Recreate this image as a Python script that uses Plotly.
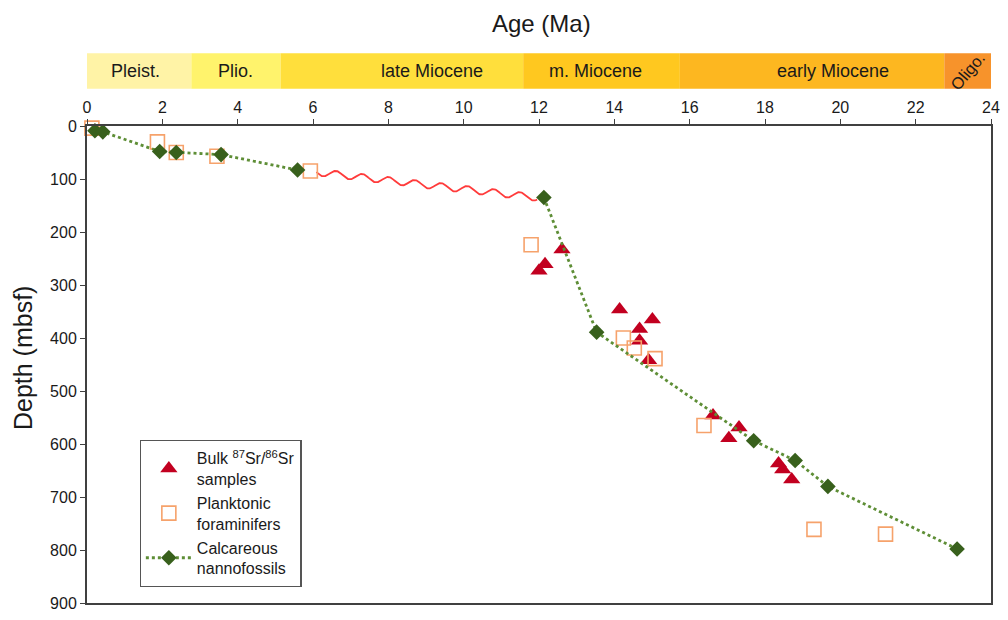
import numpy as np
import plotly.graph_objects as go

# ---------------- data ----------------
sr_age = [12.61, 12.16, 12.0, 14.14, 15.01, 14.67, 14.67, 14.91, 16.62, 17.31, 17.04, 18.36, 18.47, 18.71]
sr_depth = [233, 261, 273, 346, 365, 383, 405, 442, 546, 569, 589, 637, 648, 667]

foram_age = [0.13, 1.87, 2.37, 3.45, 5.93, 11.79, 14.24, 14.53, 15.08, 16.38, 19.30, 21.20]
foram_depth = [4, 30, 50, 57, 85, 224, 400, 419, 439, 565, 761, 770]

nanno_age = [0.21, 0.42, 1.93, 2.37, 3.56, 5.59, 12.13, 13.53, 17.70, 18.80, 19.67, 23.10]
nanno_depth = [9, 11, 48, 50, 54, 83, 135, 389, 594, 631, 680, 798]
hiatus_after_index = 5          # line is broken between these nanno points (unconformity)
hiatus_start = (6.09, 87)       # age, depth where wavy line starts
hiatus_end = (11.95, 135)       # age, depth where wavy line ends

epoch_names = ["Pleist.", "Plio.", "late Miocene", "m. Miocene", "early Miocene", "Oligo."]
epoch_start = [0, 2.77, 5.14, 11.58, 15.74, 22.76]
epoch_end = [2.77, 5.14, 11.58, 15.74, 22.76, 24]
epoch_label_age = [1.3, 3.93, 9.15, 13.5, 19.8, 23.38]
epoch_colors = ["#FFF3A6", "#FFF36C", "#FFDF3C", "#FFC81F", "#FDB720", "#F7932B"]

x_ticks = list(range(0, 25, 2))
y_ticks = list(range(0, 901, 100))

FONT = "Liberation Sans, Arial, sans-serif"
TXT = "#1a1a1a"
AX = "#404040"

fig = go.Figure()

# nannofossil line with gap at the hiatus
line_x = nanno_age[:hiatus_after_index + 1] + [None] + nanno_age[hiatus_after_index + 1:]
line_y = nanno_depth[:hiatus_after_index + 1] + [None] + nanno_depth[hiatus_after_index + 1:]

# wavy unconformity symbol (decoration)
t = np.linspace(0, 1, 600)
n_waves = 8.4
wave_amp = 6.5
wave_x = hiatus_start[0] + (hiatus_end[0] - hiatus_start[0]) * t
wave_y = hiatus_start[1] + (hiatus_end[1] - hiatus_start[1]) * t + wave_amp * np.sin(2 * np.pi * n_waves * t)

fig.add_trace(go.Scatter(
    x=wave_x, y=wave_y, mode="lines", showlegend=False, hoverinfo="skip",
    line=dict(color="#FF3B3B", width=1.8)))

fig.add_trace(go.Scatter(
    x=sr_age, y=sr_depth, mode="markers",
    name="Bulk <sup>87</sup>Sr/<sup>86</sup>Sr<br>samples",
    marker=dict(symbol="triangle-up", size=15, color="#C20020"),
    cliponaxis=False))

fig.add_trace(go.Scatter(
    x=foram_age, y=foram_depth, mode="markers",
    name="Planktonic<br>foraminifers",
    marker=dict(symbol="square-open", size=14, color="#F6A26B", line=dict(width=1.6)),
    cliponaxis=False))

fig.add_trace(go.Scatter(
    x=line_x, y=line_y, mode="lines+markers",
    name="Calcareous<br>nannofossils",
    line=dict(color="#5E8E36", width=2.8, dash="dot"), connectgaps=False,
    marker=dict(symbol="diamond", size=12, color="#38601C"),
    cliponaxis=False))

shapes = []
annotations = []
bar_y0 = (612 - 88) / 486
bar_y1 = (612 - 52) / 486
for name, s, e, la, c in zip(epoch_names, epoch_start, epoch_end, epoch_label_age, epoch_colors):
    shapes.append(dict(type="rect", xref="x", yref="paper", x0=s, x1=e, y0=bar_y0, y1=bar_y1,
                       fillcolor=c, line=dict(width=0), layer="below"))
    if name == "Oligo.":
        annotations.append(dict(x=la, y=(bar_y0 + bar_y1) / 2, xref="x", yref="paper", text=name,
                                xanchor="center", yanchor="middle",
                                showarrow=False, textangle=-50,
                                font=dict(family=FONT, size=16.5, color=TXT)))
    else:
        annotations.append(dict(x=la, y=(bar_y0 + bar_y1) / 2, xref="x", yref="paper", text=name,
                                xanchor="center", yanchor="middle",
                                showarrow=False, font=dict(family=FONT, size=18, color=TXT)))

annotations.append(dict(x=0.503, y=(612 - 22) / 486, xref="paper", yref="paper", text="Age (Ma)",
                        xanchor="center", yanchor="middle",
                        showarrow=False, font=dict(family=FONT, size=24, color=TXT)))
annotations.append(dict(x=(22 - 87) / 910, y=(612 - 362) / 486, xref="paper", yref="paper",
                        text="Depth (mbsf)", xanchor="center", yanchor="middle",
                        showarrow=False, textangle=-90, font=dict(family=FONT, size=25, color=TXT)))

fig.update_layout(
    width=1008, height=620,
    margin=dict(l=87, r=11, t=126, b=8, pad=0),
    paper_bgcolor="white", plot_bgcolor="white",
    font=dict(family=FONT, color=TXT),
    shapes=shapes, annotations=annotations,
    legend=dict(x=(140 - 87) / 910, y=(612 - 446) / 486, xanchor="left", yanchor="top",
                bordercolor="#555555", borderwidth=1.2, bgcolor="white",
                itemwidth=46,
                font=dict(family=FONT, size=16, color=TXT)),
    xaxis=dict(range=[0, 24], side="top", tickmode="array", tickvals=x_ticks,
               ticks="outside", ticklen=5, tickwidth=1, tickcolor=AX,
               showline=True, linecolor=AX, linewidth=2, mirror=True,
               showgrid=False, zeroline=False,
               tickfont=dict(family=FONT, size=16, color=TXT)),
    yaxis=dict(range=[900, 0], tickmode="array", tickvals=y_ticks,
               ticks="outside", ticklen=5, tickwidth=1, tickcolor=AX,
               showline=True, linecolor=AX, linewidth=2, mirror=True,
               showgrid=False, zeroline=False,
               tickfont=dict(family=FONT, size=16, color=TXT)),
)

fig.write_html("out.html")
